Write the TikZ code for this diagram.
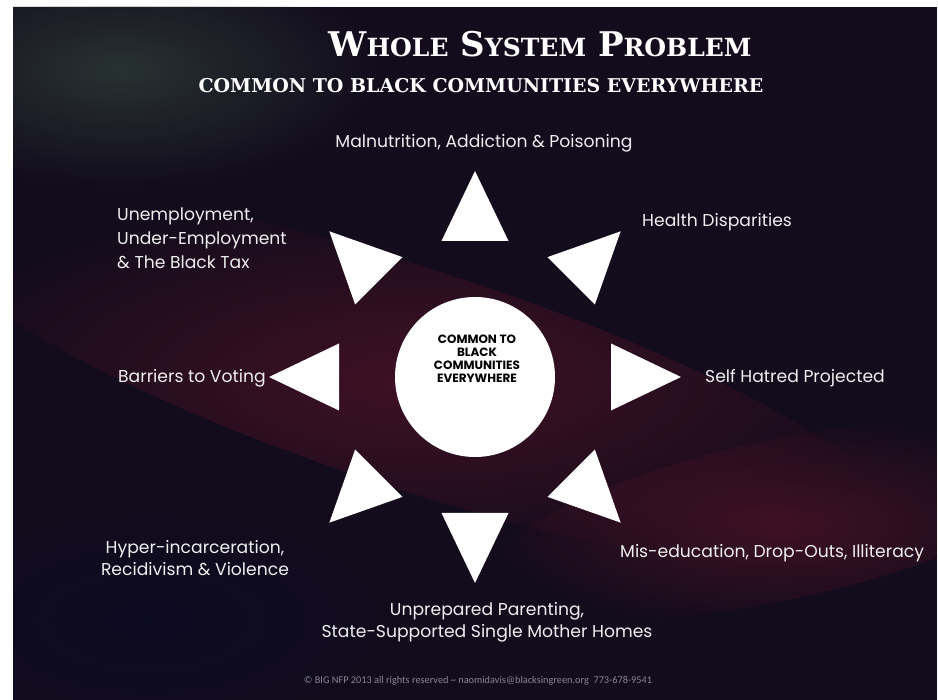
\documentclass[tikz,border=0pt]{standalone}
\usepackage{fontspec}
\setmainfont{Poppins}
\newfontfamily\titlefont{DejaVu Serif}
\newfontfamily\footfont{Carlito}
\usetikzlibrary{calc, fadings, positioning}
\definecolor{bgdark}{RGB}{18,12,28}
\definecolor{streakred}{RGB}{95,20,42}
\definecolor{streakblue}{RGB}{10,10,40}
\definecolor{streakgreen}{RGB}{55,75,65}
\definecolor{labelwhite}{RGB}{238,238,238}
\definecolor{footgray}{RGB}{135,135,150}
\tikzfading[name=softedge, inner color=transparent!40, outer color=transparent!100]
\newcommand\capword[2]{#1{\fontsize{25}{25}\selectfont #2}}

\begin{document}
\begin{tikzpicture}[x=1pt, y=-1pt,
    lbl/.style={text=labelwhite, font=\fontsize{17.2}{24}\selectfont, inner sep=0pt},
    hub/.style={circle, fill=white, minimum size=160pt, inner sep=0pt}
]
    % page and background
    \useasboundingbox (0,0) rectangle (938,700);
    \fill[white] (0,0) rectangle (938,700);
    \fill[bgdark] (13,7) rectangle (937,700);
    \begin{scope}
        \clip (13,7) rectangle (937,700);
        \fill[streakgreen, path fading=softedge] (120,70) ellipse [x radius=260, y radius=120];
        \fill[streakred, path fading=softedge, rotate around={-18:(420,380)}] (420,380) ellipse [x radius=520, y radius=110];
        \fill[streakred, path fading=softedge, rotate around={12:(780,520)}] (780,520) ellipse [x radius=300, y radius=80];
        \fill[streakblue, path fading=softedge] (150,620) ellipse [x radius=260, y radius=120];
    \end{scope}

    % title
    \node[text=white, font=\titlefont\bfseries\fontsize{34}{34}\selectfont] (title) at (540,44)
        {\capword{W}{HOLE} \capword{S}{YSTEM} \capword{P}{ROBLEM}};
    \node[text=white, font=\titlefont\bfseries\fontsize{19}{19}\selectfont] (subtitle) at (481,86)
        {COMMON TO BLACK COMMUNITIES EVERYWHERE};

    % hub and triangles
    \node[hub] (hub) at (475,377) {};
    \node[font=\fontsize{12}{13}\selectfont\bfseries, align=center, inner sep=0pt] (hubtext) at (477,359)
        {COMMON TO\\BLACK\\COMMUNITIES\\EVERYWHERE};
    \foreach \a in {0,45,...,315}
        \fill[white] ($(hub.center)+(\a:206)$) -- ($(hub.center)+(\a:136)+(\a+90:33.5)$)
            -- ($(hub.center)+(\a:136)+(\a-90:33.5)$) -- cycle;

    % labels
    \node[lbl] (malnutrition) at (484,143) {Malnutrition, Addiction \& Poisoning};
    \node[lbl, anchor=west] (health) at (642,222) {Health Disparities};
    \node[lbl, anchor=west, align=left] (unemployment) at (117,238) {Unemployment,\\Under-Employment\\\& The Black Tax};
    \node[lbl, anchor=west] (voting) at (118,378) {Barriers to Voting};
    \node[lbl, anchor=west] (hatred) at (705,378) {Self Hatred Projected};
    \node[lbl, align=center, font=\fontsize{17.2}{22}\selectfont] (incarceration) at (195,558) {Hyper-incarceration,\\Recidivism \& Violence};
    \node[lbl, anchor=west] (education) at (620,553) {Mis-education, Drop-Outs, Illiteracy};
    \node[lbl, align=center, font=\fontsize{17.2}{22}\selectfont] (parenting) at (487,622) {Unprepared Parenting,\\State-Supported Single Mother Homes};

    % footer
    \node[text=footgray, font=\footfont\fontsize{10.3}{12}\selectfont] (footer) at (478,681)
        {© BIG NFP 2013 all rights reserved \textasciitilde{} naomidavis@blacksingreen.org\ \ 773-678-9541};
\end{tikzpicture}
\end{document}
